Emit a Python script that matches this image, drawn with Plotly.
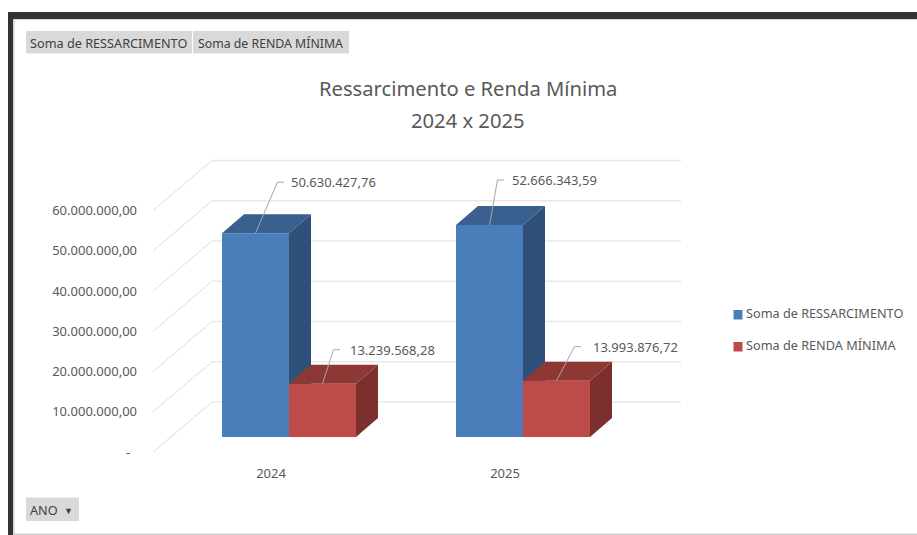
import plotly.graph_objects as go

# ---- data ----
years = ["2024", "2025"]
ressarcimento = [50630427.76, 52666343.59]
renda_minima = [13239568.28, 13993876.72]
series_names = ["Soma de RESSARCIMENTO", "Soma de RENDA MÍNIMA"]
y_ticks = [0, 10000000, 20000000, 30000000, 40000000, 50000000, 60000000]
y_tick_labels = ["-\u00a0\u00a0", "10.000.000,00", "20.000.000,00", "30.000.000,00",
                 "40.000.000,00", "50.000.000,00", "60.000.000,00"]
title_lines = ["Ressarcimento e Renda Mínima", "2024 x 2025"]

# ---- styles / layout geometry (pixels) ----
W, H = 917, 535
PL, PR, PT, PB = 153, 700, 130, 458     # plot area
CAT_PX = 234.0                          # pixels between categories
CAT0_PX = 271.0                         # pixel of first category
ZERO_PX = 452.0                         # pixel of value 0
PX_PER_10M = 40.25
FONT = "Noto Sans"
TXT = "#595959"
BTN_TXT = "#404040"
GRID = "#e8e8e8"
BLUE = ("#4a7ebb", "#39608f", "#2f5078")   # front, top, side
RED = ("#be4b48", "#8e3835", "#7c2f2c")

def X(p): return (p - CAT0_PX) / CAT_PX
def V(p): return (ZERO_PX - p) * 1e7 / PX_PER_10M
def dXpx(d): return d / CAT_PX
def dVpx(d): return d * 1e7 / PX_PER_10M
def PX(p): return (p - PL) / (PR - PL)
def PY(p): return (PB - p) / (PB - PT)

BAR_W = dXpx(67)
BASE = dVpx(15)           # floor offset of the bars
DEPTH_X, DEPTH_V = dXpx(22), dVpx(19)
WALL_X, WALL_V = dXpx(59), dVpx(50)
OFFS = [dXpx(-49), dXpx(18)]
GRID_END = X(681)
AX_START = X(PL)

fig = go.Figure()

def add_series(name, values, off, colors, xa, ya):
    xs = list(range(len(values)))
    fig.add_trace(go.Bar(x=xs, y=values, base=[BASE] * len(values), offset=off, width=BAR_W,
                         name=name, marker=dict(color=colors[0], line=dict(width=0)),
                         xaxis=xa, yaxis=ya, showlegend=False, hoverinfo="skip"))
    for i, v in enumerate(values):
        x0 = i + off
        x1 = x0 + BAR_W
        b = BASE
        t = BASE + v
        # side face
        fig.add_trace(go.Scatter(
            x=[x1, x1 + DEPTH_X, x1 + DEPTH_X, x1, x1],
            y=[t, t + DEPTH_V, b + DEPTH_V, b, t],
            fill="toself", fillcolor=colors[2], mode="none", showlegend=False,
            hoverinfo="skip", xaxis=xa, yaxis=ya))
        # top face
        fig.add_trace(go.Scatter(
            x=[x0, x0 + DEPTH_X, x1 + DEPTH_X, x1, x0],
            y=[t, t + DEPTH_V, t + DEPTH_V, t, t],
            fill="toself", fillcolor=colors[1], mode="none", showlegend=False,
            hoverinfo="skip", xaxis=xa, yaxis=ya))

add_series(series_names[0], ressarcimento, OFFS[0], BLUE, "x", "y")
add_series(series_names[1], renda_minima, OFFS[1], RED, "x2", "y2")

def br(v):
    return f"{v:,.2f}".replace(",", "#").replace(".", ",").replace("#", ".")

# data-label leaders: (dx to elbow, dy to elbow, gap to text) px from the bar's front-top centre
LEADER = {
    (0, 0): (22, 51, 5), (1, 0): (8, 45, 6),
    (0, 1): (11, 34, 7.5), (1, 1): (18, 34, 9.5),
}
annotations = []
for s, (values, off) in enumerate([(ressarcimento, OFFS[0]), (renda_minima, OFFS[1])]):
    for i, v in enumerate(values):
        cx = i + off + BAR_W / 2
        t = BASE + v
        ex, ey, gap = LEADER[(i, s)]
        elbow_x, elbow_v = cx + dXpx(ex), t + dVpx(ey)
        end_x = elbow_x + dXpx(6.5)
        fig.add_trace(go.Scatter(x=[cx, elbow_x, end_x], y=[t, elbow_v, elbow_v], mode="lines",
                                 line=dict(color="#a6a6a6", width=1), showlegend=False,
                                 hoverinfo="skip", xaxis="x2", yaxis="y2"))
        annotations.append(dict(x=end_x + dXpx(gap), y=elbow_v, xref="x", yref="y", text=br(v),
                                showarrow=False, xanchor="left", yanchor="middle",
                                font=dict(family=FONT, size=13, color=TXT)))

# perspective walls, behind everything
shapes = []
for tv in y_ticks:
    shapes.append(dict(type="line", xref="x", yref="y", layer="below",
                       x0=AX_START, x1=AX_START + WALL_X, y0=tv, y1=tv + WALL_V,
                       line=dict(color=GRID, width=1.2)))
    shapes.append(dict(type="line", xref="x", yref="y", layer="below",
                       x0=AX_START + WALL_X, x1=GRID_END, y0=tv + WALL_V, y1=tv + WALL_V,
                       line=dict(color=GRID, width=1.6)))

# frame of the screenshot
def rect(x0, y0, x1, y1, color, layer="below"):
    return dict(type="rect", xref="paper", yref="paper", layer=layer,
                x0=PX(x0), x1=PX(x1), y0=PY(y0), y1=PY(y1),
                fillcolor=color, line=dict(width=0))

shapes += [
    rect(8, 12, W, 19, "#333333"),
    rect(8, 12, 13, H, "#333333"),
    rect(13, 19, 14.5, H, "#d4d4d4"),
    rect(13, 19, W, 20, "#d4d4d4"),
    rect(14, 533.5, W, H, "#d0d0d0"),
    rect(26, 31, 192, 53.5, "#d9d9d9"),
    rect(193, 31, 349, 53.5, "#d9d9d9"),
    rect(26, 497.5, 79, 521, "#d9d9d9"),
    # legend keys
    rect(733.5, 310, 742.5, 319.5, BLUE[0]),
    rect(733.5, 342, 742.5, 351.5, RED[0]),
]

def ptext(x, y, text, size, anchor="left", color=TXT):
    return dict(x=PX(x), y=PY(y), xref="paper", yref="paper", text=text, showarrow=False,
                xanchor=anchor, yanchor="middle", font=dict(family=FONT, size=size, color=color))

annotations += [
    ptext(467.5, 88, title_lines[0], 20.2, "center"),
    ptext(467.5, 120, title_lines[1], 20.2, "center"),
    ptext(28, 43, series_names[0], 12.7, color=BTN_TXT),
    ptext(196, 43, series_names[1], 12.3, color=BTN_TXT),
    ptext(28, 510, "ANO", 12.7, color=BTN_TXT),
    ptext(62, 510, "▼", 9, color=BTN_TXT),
    ptext(744, 313, series_names[0], 12.7),
    ptext(744, 344.5, series_names[1], 12.7),
]

x_range = [X(PL), X(PR)]
y_range = [V(PB), V(PT)]

fig.update_layout(
    width=W, height=H,
    margin=dict(l=PL, r=W - PR, t=PT, b=H - PB, autoexpand=False),
    paper_bgcolor="white", plot_bgcolor="rgba(0,0,0,0)",
    font=dict(family=FONT, size=12, color=TXT),
    barmode="overlay",
    shapes=shapes, annotations=annotations,
    xaxis=dict(range=x_range, tickvals=[0, 1], ticktext=years, showgrid=False, zeroline=False,
               showline=False, ticks="", ticklabelstandoff=6, fixedrange=True,
               tickfont=dict(family=FONT, size=13, color=TXT)),
    yaxis=dict(range=y_range, tickvals=y_ticks, ticktext=y_tick_labels, showgrid=False,
               zeroline=False, showline=False, ticks="", ticklabelstandoff=15, fixedrange=True,
               tickfont=dict(family=FONT, size=13, color=TXT)),
    xaxis2=dict(range=x_range, overlaying="x", visible=False, fixedrange=True),
    yaxis2=dict(range=y_range, overlaying="y", visible=False, fixedrange=True),
    showlegend=False,
)

fig.write_html("out.html", config={"displayModeBar": False},
               post_script="document.body.style.margin='0';document.body.style.overflow='hidden';")
